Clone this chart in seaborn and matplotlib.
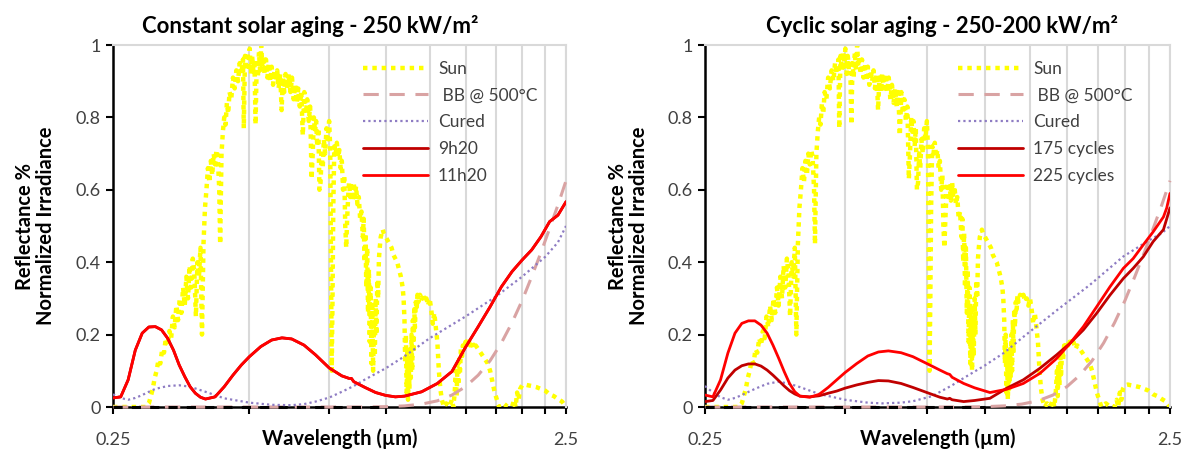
import numpy as np
import pandas as pd
import matplotlib
matplotlib.use("Agg")
import matplotlib.pyplot as plt
from matplotlib.ticker import FixedLocator, NullLocator, FixedFormatter
import seaborn as sns

# ---------------- data ----------------
sun_wl = [0.250, 0.270, 0.280, 0.290, 0.295, 0.300, 0.303, 0.306, 0.309, 0.312, 0.315, 0.318,
          0.321, 0.324, 0.327, 0.330, 0.333, 0.336, 0.339, 0.342, 0.345, 0.348, 0.351, 0.354,
          0.357, 0.360, 0.363, 0.366, 0.369, 0.372, 0.375, 0.378, 0.381, 0.384, 0.387, 0.390,
          0.393, 0.396, 0.399, 0.402, 0.405, 0.408, 0.411, 0.414, 0.417, 0.420, 0.423, 0.426,
          0.429, 0.431, 0.434, 0.437, 0.440, 0.443, 0.446, 0.449, 0.452, 0.456, 0.460, 0.464,
          0.468, 0.472, 0.476, 0.480, 0.484, 0.486, 0.489, 0.492, 0.495, 0.498, 0.501, 0.504,
          0.507, 0.510, 0.513, 0.516, 0.519, 0.522, 0.525, 0.528, 0.531, 0.534, 0.537, 0.540,
          0.544, 0.548, 0.552, 0.556, 0.560, 0.564, 0.568, 0.572, 0.576, 0.580, 0.585, 0.589,
          0.593, 0.597, 0.601, 0.606, 0.611, 0.616, 0.621, 0.626, 0.631, 0.636, 0.641, 0.646,
          0.651, 0.656, 0.661, 0.666, 0.671, 0.676, 0.681, 0.686, 0.690, 0.694, 0.698, 0.702,
          0.706, 0.710, 0.714, 0.718, 0.722, 0.726, 0.730, 0.735, 0.740, 0.745, 0.750, 0.754,
          0.757, 0.760, 0.763, 0.766, 0.770, 0.775, 0.780, 0.785, 0.790, 0.795, 0.800, 0.805,
          0.810, 0.814, 0.818, 0.822, 0.826, 0.830, 0.835, 0.840, 0.845, 0.850, 0.855, 0.860,
          0.866, 0.872, 0.878, 0.884, 0.890, 0.894, 0.898, 0.902, 0.906, 0.910, 0.914, 0.918,
          0.922, 0.926, 0.930, 0.934, 0.938, 0.942, 0.946, 0.950, 0.954, 0.958, 0.962, 0.966,
          0.970, 0.975, 0.980, 0.985, 0.990, 1.000, 1.010, 1.020, 1.030, 1.040, 1.050, 1.060,
          1.070, 1.080, 1.090, 1.095, 1.100, 1.104, 1.108, 1.112, 1.116, 1.120, 1.124, 1.128,
          1.132, 1.136, 1.140, 1.144, 1.148, 1.152, 1.156, 1.160, 1.165, 1.170, 1.175, 1.180,
          1.190, 1.200, 1.210, 1.220, 1.230, 1.240, 1.250, 1.260, 1.270, 1.280, 1.290, 1.300,
          1.310, 1.320, 1.330, 1.345, 1.360, 1.380, 1.400, 1.410, 1.420, 1.428, 1.434, 1.440,
          1.446, 1.452, 1.458, 1.465, 1.472, 1.480, 1.490, 1.500, 1.510, 1.520, 1.535, 1.550,
          1.565, 1.580, 1.600, 1.620, 1.640, 1.660, 1.680, 1.700, 1.720, 1.740, 1.760, 1.780,
          1.820, 1.860, 1.900, 1.920, 1.935, 1.950, 1.965, 1.980, 2.000, 2.030, 2.060, 2.100,
          2.150, 2.200, 2.250, 2.300, 2.350, 2.400, 2.450, 2.500]
sun_val = [0.0, 0.0, 0.0, 0.0, 0.0, 0.01, 0.03, 0.05, 0.08, 0.10, 0.13, 0.12,
           0.16, 0.15, 0.19, 0.17, 0.21, 0.19, 0.25, 0.22, 0.28, 0.24, 0.30, 0.26,
           0.33, 0.28, 0.36, 0.30, 0.39, 0.33, 0.41, 0.37, 0.25, 0.40, 0.36, 0.44,
           0.20, 0.45, 0.55, 0.60, 0.66, 0.62, 0.68, 0.64, 0.70, 0.67, 0.71, 0.69,
           0.60, 0.45, 0.70, 0.76, 0.80, 0.78, 0.84, 0.81, 0.87, 0.85, 0.91, 0.88,
           0.93, 0.90, 0.95, 0.92, 0.96, 0.77, 0.97, 0.93, 0.98, 0.94, 0.99, 0.92,
           0.97, 0.93, 0.96, 0.78, 0.95, 0.91, 0.98, 0.93, 1.00, 0.94, 0.97, 0.92,
           0.96, 0.91, 0.95, 0.90, 0.94, 0.89, 0.93, 0.90, 0.93, 0.88, 0.92, 0.82,
           0.91, 0.87, 0.92, 0.88, 0.92, 0.87, 0.91, 0.85, 0.89, 0.84, 0.88, 0.83,
           0.87, 0.75, 0.87, 0.81, 0.85, 0.79, 0.83, 0.63, 0.70, 0.80, 0.76, 0.79,
           0.72, 0.77, 0.60, 0.62, 0.70, 0.66, 0.74, 0.70, 0.77, 0.74, 0.79, 0.72,
           0.40, 0.10, 0.30, 0.55, 0.72, 0.70, 0.73, 0.69, 0.71, 0.66, 0.68, 0.60,
           0.64, 0.50, 0.44, 0.52, 0.58, 0.62, 0.58, 0.61, 0.57, 0.62, 0.58, 0.61,
           0.56, 0.58, 0.52, 0.54, 0.47, 0.52, 0.40, 0.48, 0.33, 0.44, 0.26, 0.38,
           0.18, 0.33, 0.12, 0.28, 0.10, 0.24, 0.14, 0.30, 0.20, 0.35, 0.30, 0.41,
           0.44, 0.47, 0.48, 0.49, 0.48, 0.47, 0.46, 0.45, 0.44, 0.42, 0.41, 0.40,
           0.38, 0.36, 0.33, 0.30, 0.24, 0.12, 0.20, 0.04, 0.15, 0.02, 0.12, 0.05,
           0.16, 0.08, 0.20, 0.10, 0.24, 0.15, 0.27, 0.22, 0.29, 0.27, 0.31, 0.29,
           0.31, 0.30, 0.31, 0.29, 0.30, 0.28, 0.30, 0.27, 0.23, 0.26, 0.22, 0.18,
           0.10, 0.05, 0.02, 0.0, 0.01, 0.0, 0.02, 0.0, 0.04, 0.10, 0.03, 0.12,
           0.06, 0.14, 0.09, 0.16, 0.13, 0.17, 0.16, 0.18, 0.17, 0.19, 0.17, 0.18,
           0.16, 0.17, 0.16, 0.15, 0.14, 0.13, 0.12, 0.10, 0.07, 0.04, 0.02, 0.0,
           0.01, 0.0, 0.0, 0.02, 0.0, 0.04, 0.02, 0.05, 0.06, 0.062, 0.06, 0.058,
           0.055, 0.05, 0.045, 0.035, 0.03, 0.022, 0.015, 0.0]

bb_wl = [0.25, 0.5, 0.9, 1.0, 1.1, 1.2, 1.3, 1.4, 1.5, 1.6, 1.7, 1.8, 1.9, 2.0, 2.1, 2.2, 2.3, 2.4, 2.5]
bb_val = [0.0, 0.0, 0.0, 0.001, 0.003, 0.008, 0.017, 0.033, 0.056, 0.088, 0.128, 0.177,
          0.233, 0.294, 0.36, 0.426, 0.493, 0.558, 0.625]

zero_wl = [0.25, 1.0]
zero_val = [0.0, 0.0]

cured_wl_left = [0.25, 0.26, 0.27, 0.28, 0.29, 0.30, 0.31, 0.33, 0.35, 0.37, 0.40, 0.44, 0.50,
                 0.56, 0.62, 0.66, 0.70, 0.75, 0.80, 0.85, 0.90, 1.0, 1.1, 1.25, 1.5, 1.75,
                 2.0, 2.25, 2.4, 2.5]
cured_val_left = [0.035, 0.025, 0.02, 0.025, 0.033, 0.042, 0.05, 0.058, 0.06, 0.056, 0.042,
                  0.024, 0.012, 0.006, 0.005, 0.008, 0.015, 0.026, 0.042, 0.058, 0.076, 0.107,
                  0.14, 0.19, 0.25, 0.305, 0.36, 0.415, 0.455, 0.5]
cured_wl_right = [0.25, 0.26, 0.27, 0.28, 0.29, 0.30, 0.32, 0.34, 0.36, 0.38, 0.40, 0.44, 0.50,
                  0.56, 0.60, 0.66, 0.70, 0.77, 0.85, 0.90, 1.0, 1.1, 1.21, 1.43, 1.68, 1.98,
                  2.25, 2.4, 2.5]
cured_val_right = [0.058, 0.04, 0.027, 0.02, 0.025, 0.033, 0.05, 0.064, 0.07, 0.064, 0.055,
                   0.036, 0.02, 0.012, 0.01, 0.012, 0.016, 0.03, 0.06, 0.08, 0.115, 0.15,
                   0.194, 0.268, 0.337, 0.415, 0.46, 0.48, 0.5]

wl_left = [0.25, 0.26, 0.27, 0.28, 0.29, 0.30, 0.31, 0.32, 0.33, 0.34, 0.35, 0.36, 0.37, 0.38,
           0.39, 0.40, 0.42, 0.44, 0.46, 0.48, 0.50, 0.53, 0.56, 0.59, 0.62, 0.66, 0.70, 0.75,
           0.80, 0.83, 0.84, 0.85, 0.90, 0.95, 1.0, 1.05, 1.1, 1.2, 1.3, 1.4, 1.5, 1.6, 1.7,
           1.8, 1.9, 2.0, 2.1, 2.2, 2.3, 2.4, 2.5]
h0920 = [0.025, 0.028, 0.075, 0.157, 0.204, 0.221, 0.222, 0.213, 0.19, 0.157, 0.116, 0.084,
         0.056, 0.038, 0.027, 0.022, 0.028, 0.056, 0.088, 0.116, 0.139, 0.167, 0.185, 0.191,
         0.188, 0.171, 0.144, 0.108, 0.086, 0.079, 0.079, 0.07, 0.054, 0.04, 0.032, 0.028,
         0.03, 0.042, 0.065, 0.098, 0.165, 0.222, 0.277, 0.332, 0.374, 0.406, 0.434, 0.47,
         0.512, 0.53, 0.567]
h1120 = [0.025, 0.028, 0.075, 0.157, 0.204, 0.221, 0.222, 0.213, 0.19, 0.157, 0.116, 0.084,
         0.056, 0.038, 0.027, 0.022, 0.028, 0.056, 0.088, 0.116, 0.139, 0.167, 0.185, 0.191,
         0.188, 0.171, 0.144, 0.108, 0.086, 0.079, 0.079, 0.07, 0.054, 0.04, 0.032, 0.028,
         0.03, 0.042, 0.065, 0.098, 0.165, 0.222, 0.277, 0.332, 0.374, 0.406, 0.434, 0.47,
         0.512, 0.53, 0.567]

wl_right = [0.25, 0.26, 0.27, 0.28, 0.29, 0.30, 0.31, 0.32, 0.33, 0.34, 0.35, 0.36, 0.37,
            0.38, 0.39, 0.40, 0.42, 0.44, 0.46, 0.48, 0.50, 0.53, 0.56, 0.59, 0.62, 0.66,
            0.70, 0.75, 0.80, 0.83, 0.84, 0.85, 0.90, 0.95, 1.025, 1.114, 1.209, 1.313, 1.426,
            1.524, 1.628, 1.739, 1.857, 1.984, 2.083, 2.19, 2.30, 2.42, 2.46, 2.5]
c175 = [0.015, 0.018, 0.047, 0.08, 0.102, 0.114, 0.119, 0.119, 0.113, 0.102, 0.088, 0.073,
        0.058, 0.045, 0.036, 0.03, 0.028, 0.031, 0.038, 0.044, 0.052, 0.061, 0.068, 0.073,
        0.072, 0.065, 0.054, 0.04, 0.027, 0.022, 0.024, 0.02, 0.015, 0.018, 0.024, 0.052,
        0.075, 0.107, 0.144, 0.176, 0.213, 0.259, 0.309, 0.355, 0.383, 0.415, 0.457, 0.49,
        0.52, 0.55]
c225 = [0.033, 0.028, 0.075, 0.149, 0.204, 0.231, 0.238, 0.238, 0.226, 0.204, 0.171, 0.135,
        0.098, 0.065, 0.042, 0.03, 0.027, 0.035, 0.054, 0.075, 0.095, 0.12, 0.141, 0.152,
        0.155, 0.15, 0.139, 0.12, 0.102, 0.092, 0.09, 0.082, 0.065, 0.053, 0.04, 0.049,
        0.065, 0.093, 0.134, 0.176, 0.222, 0.277, 0.332, 0.383, 0.41, 0.448, 0.484, 0.525,
        0.55, 0.59]

titles = ["Constant solar aging - 250 kW/m\u00b2", "Cyclic solar aging - 250-200 kW/m\u00b2"]
sample_labels = [["9h20", "11h20"], ["175 cycles", "225 cycles"]]
grid_wl = [0.5, 0.75, 1.0, 1.25, 1.5, 1.75, 2.0, 2.25]
y_ticks = [0, 0.2, 0.4, 0.6, 0.8, 1.0]
y_ticklabels = ["0", "0.2", "0.4", "0.6", "0.8", "1"]

# ---------------- style ----------------
sns.set_style("white")
plt.rcParams['font.family'] = ['Lato', 'DejaVu Sans']

fig = plt.figure(figsize=(11.92, 4.53), dpi=100)
W, H = 1192.0, 453.0
axes = [fig.add_axes([113 / W, (H - 407) / H, 453 / W, 362 / H]),
        fig.add_axes([705 / W, (H - 407) / H, 465 / W, 362 / H])]

SUN_C = "#FFFF00"
BB_C = "#D9A3A3"
CURED_C = "#8E7CC3"
DARK_C = "#C00000"
RED_C = "#FF0000"
TXT_C = "#404040"

cured_sets = [(cured_wl_left, cured_val_left), (cured_wl_right, cured_val_right)]
sample_sets = [(wl_left, h0920, h1120), (wl_right, c175, c225)]
ylabel_x = [-0.125, -0.12]
title_x = [0.435, 0.51]
legend_x = [0.522, 0.515]

for i, ax in enumerate(axes):
    ax.set_xscale("log")
    for g in grid_wl + [2.5]:
        ax.axvline(g, color="#D9D9D9", lw=1.5, zorder=0)

    sns.lineplot(x=sun_wl, y=sun_val, ax=ax, color=SUN_C, lw=3.2, estimator=None,
                 sort=False, label="Sun", zorder=2)
    ax.lines[-1].set_linestyle((0, (1, 1.1)))
    sns.lineplot(x=bb_wl, y=bb_val, ax=ax, color=BB_C, lw=2.2, estimator=None,
                 sort=False, label=" BB @ 500\u00b0C", zorder=3)
    ax.lines[-1].set_linestyle((0, (5, 3.5)))
    ax.lines[-1].set_clip_on(False)
    sns.lineplot(x=zero_wl, y=zero_val, ax=ax, color="black", lw=2.2, estimator=None,
                 sort=False, zorder=3.5)
    ax.lines[-1].set_linestyle((0, (3, 3)))
    ax.lines[-1].set_clip_on(False)
    cw, cv = cured_sets[i]
    sns.lineplot(x=cw, y=cv, ax=ax, color=CURED_C, lw=1.6, estimator=None,
                 sort=False, label="Cured", zorder=4)
    ax.lines[-1].set_linestyle((0, (1, 1.4)))
    sw, s1, s2 = sample_sets[i]
    sns.lineplot(x=sw, y=s1, ax=ax, color=DARK_C, lw=2.0, estimator=None,
                 sort=False, label=sample_labels[i][0], zorder=5)
    sns.lineplot(x=sw, y=s2, ax=ax, color=RED_C, lw=2.0, estimator=None,
                 sort=False, label=sample_labels[i][1], zorder=6)

    ax.set_xlim(0.25, 2.5)
    ax.set_ylim(0, 1)
    xt = [0.25] + grid_wl + [2.5]
    ax.xaxis.set_major_locator(FixedLocator(xt))
    ax.xaxis.set_major_formatter(FixedFormatter(["0.25"] + [""] * len(grid_wl) + ["2.5"]))
    ax.xaxis.set_minor_locator(NullLocator())
    ax.set_yticks(y_ticks)
    ax.set_yticklabels(y_ticklabels)
    ax.tick_params(axis="x", direction="out", length=5, width=1.5, color="black",
                   pad=13, labelsize=13, labelcolor=TXT_C)
    ax.tick_params(axis="y", direction="out", length=5, width=1.5, color="black",
                   pad=4, labelsize=13, labelcolor=TXT_C)
    ax.tick_params(bottom=True, left=True)
    for side in ["left", "bottom"]:
        ax.spines[side].set_color("black")
        ax.spines[side].set_linewidth(1.8)
        ax.spines[side].set_zorder(1)
    for side in ["top", "right"]:
        ax.spines[side].set_color("#D9D9D9")
        ax.spines[side].set_linewidth(1.5)

    ax.set_title(titles[i], fontsize=16, fontweight="bold", color="black", pad=9,
                 x=title_x[i])
    ax.set_xlabel("Wavelength (\u00b5m)", fontsize=14.5, fontweight="bold", color="black")
    ax.xaxis.set_label_coords(0.5, -0.06)
    ax.set_ylabel("Reflectance %\nNormalized Irradiance", fontsize=14.5,
                  fontweight="bold", color="black", linespacing=1.1)
    ax.yaxis.set_label_coords(ylabel_x[i], 0.5)

    leg = ax.legend(loc="upper left", bbox_to_anchor=(legend_x[i], 0.995), frameon=False,
                    fontsize=12.5, handlelength=3.7, labelspacing=0.62, handletextpad=0.6,
                    borderaxespad=0.4)
    for t in leg.get_texts():
        t.set_color(TXT_C)

fig.savefig("out.png", dpi=100)
